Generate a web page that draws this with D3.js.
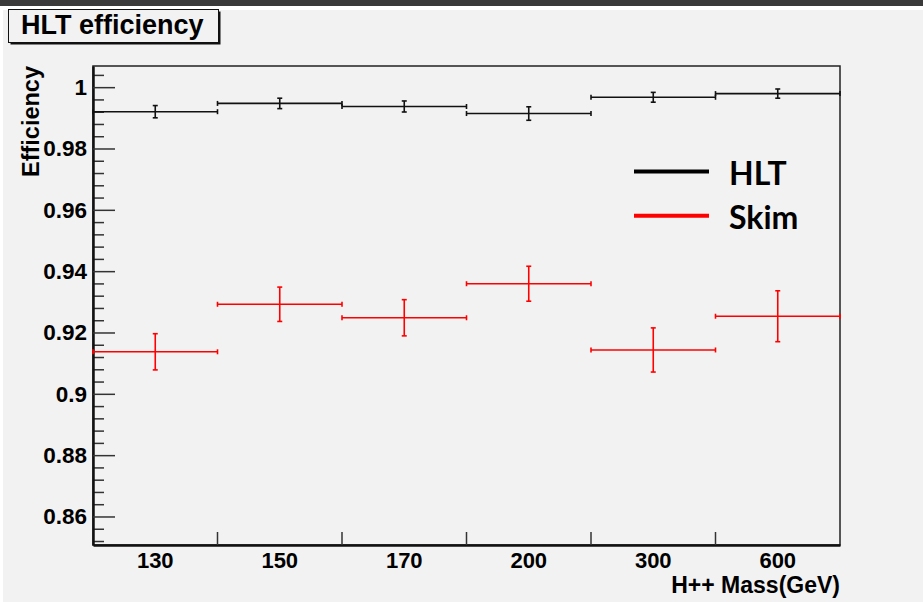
<!DOCTYPE html>
<html>
<head>
<meta charset="utf-8">
<script src="https://cdn.jsdelivr.net/npm/d3@7"></script>
<style>
  body { margin: 0; background: #ffffff; }
  svg { display: block; }
</style>
</head>
<body>
<div id="chart"></div>
<script>
// DATA
const masses = ['130', '150', '170', '200', '300', '600'];
const hltEff = [0.9920, 0.9947, 0.9937, 0.9914, 0.9967, 0.9979];
const hltErr = [0.0020, 0.0017, 0.0018, 0.0022, 0.0016, 0.0015];
const skimEff = [0.9137, 0.9292, 0.9248, 0.9359, 0.9143, 0.9253];
const skimErr = [0.0059, 0.0056, 0.0059, 0.0057, 0.0072, 0.0083];
const yMajorTicks = [0.86, 0.88, 0.90, 0.92, 0.94, 0.96, 0.98, 1.00];
const legendItems = ['HLT', 'Skim'];

(() => {
    const W = 923, H = 602;
    const left = 93, right = 840, top = 66, bottom = 545;
    const helv = 'Liberation Sans, Arial, Helvetica, sans-serif';

    const svg = d3.select('#chart')
        .append('svg')
        .attr('width', W)
        .attr('height', H);

    // canvas background + top strip
    svg.append('rect').attr('width', W).attr('height', H).attr('fill', '#ffffff');
    svg.append('rect').attr('x', 3).attr('y', 10).attr('width', W - 3).attr('height', H - 10).attr('fill', '#f2f2f2');
    svg.append('rect').attr('width', W).attr('height', 6).attr('fill', '#3a3a3a');

    const xScale = d3.scaleBand()
        .domain(masses)
        .range([left, right])
        .padding(0);

    const yScale = d3.scaleLinear()
        .domain([0.8507, 1.0069])
        .range([bottom, top]);

    // frame
    svg.append('rect')
        .attr('x', left).attr('y', top)
        .attr('width', right - left).attr('height', bottom - top)
        .attr('fill', 'none')
        .attr('stroke', '#222')
        .attr('stroke-width', 1.5);

    // y axis: minor ticks
    const minorTicks = d3.range(0.852, 1.0061, 0.004).filter(v => Math.abs(Math.round(v * 50) - v * 50) > 1e-6);
    svg.append('g')
        .attr('transform', `translate(${left},0)`)
        .call(d3.axisLeft(yScale).tickValues(minorTicks).tickSize(-11).tickSizeOuter(0).tickFormat(''))
        .call(g => g.select('.domain').remove())
        .call(g => g.selectAll('line').attr('stroke', '#333').attr('stroke-width', 1.5));

    // y axis: major ticks + labels
    svg.append('g')
        .attr('transform', `translate(${left},0)`)
        .call(d3.axisLeft(yScale).tickValues(yMajorTicks).tickSize(-22).tickSizeOuter(0).tickPadding(6)
            .tickFormat(d => String(+d.toFixed(2))))
        .call(g => g.select('.domain').attr('stroke', '#111').attr('stroke-width', 2.5))
        .call(g => g.selectAll('line').attr('stroke', '#333').attr('stroke-width', 1.5))
        .call(g => g.selectAll('text')
            .attr('font-family', helv).attr('font-weight', 'bold').attr('font-size', 22.5).attr('fill', '#000'));

    // x axis: ticks at bin edges, labels at bin centres
    const edges = masses.slice(1).map(m => xScale(m));
    svg.append('g')
        .attr('transform', `translate(0,${bottom})`)
        .call(d3.axisBottom(xScale).tickSize(0).tickSizeOuter(0).tickPadding(7))
        .call(g => g.select('.domain').attr('stroke', '#111').attr('stroke-width', 2.5))
        .call(g => g.selectAll('text')
            .attr('font-family', helv).attr('font-weight', 'bold').attr('font-size', 22).attr('fill', '#000'));

    svg.append('g')
        .selectAll('line')
        .data(edges)
        .enter()
        .append('line')
        .attr('x1', d => d).attr('x2', d => d)
        .attr('y1', bottom).attr('y2', bottom - 13)
        .attr('stroke', '#333').attr('stroke-width', 1.5);

    // axis titles
    svg.append('text')
        .attr('x', right).attr('y', 593)
        .attr('text-anchor', 'end')
        .attr('font-family', helv).attr('font-weight', 'bold').attr('font-size', 23)
        .text('H++ Mass(GeV)');

    svg.append('text')
        .attr('transform', 'translate(38.5,66) rotate(-90)')
        .attr('text-anchor', 'end')
        .attr('font-family', helv).attr('font-weight', 'bold').attr('font-size', 23.5)
        .text('Efficiency');

    // error-bar series
    function drawSeries(vals, errs, color) {
        const g = svg.append('g');
        const bw = xScale.bandwidth();
        const pts = vals.map((v, i) => ({ m: masses[i], v: v, e: errs[i] }));

        // horizontal bin bars
        g.selectAll('.h')
            .data(pts).enter().append('line')
            .attr('x1', d => xScale(d.m)).attr('x2', d => xScale(d.m) + bw)
            .attr('y1', d => yScale(d.v)).attr('y2', d => yScale(d.v))
            .attr('stroke', color).attr('stroke-width', 1.6);

        // end caps of horizontal bars
        g.selectAll('.hc')
            .data(pts.flatMap(d => [{ x: xScale(d.m), v: d.v }, { x: xScale(d.m) + bw, v: d.v }]))
            .enter().append('line')
            .attr('x1', d => d.x).attr('x2', d => d.x)
            .attr('y1', d => yScale(d.v) - 2.5).attr('y2', d => yScale(d.v) + 2.5)
            .attr('stroke', color).attr('stroke-width', 1.6);

        // vertical error bars
        g.selectAll('.v')
            .data(pts).enter().append('line')
            .attr('x1', d => xScale(d.m) + bw / 2).attr('x2', d => xScale(d.m) + bw / 2)
            .attr('y1', d => yScale(d.v - d.e)).attr('y2', d => yScale(d.v + d.e))
            .attr('stroke', color).attr('stroke-width', 1.6);

        // caps of vertical bars
        g.selectAll('.vc')
            .data(pts.flatMap(d => [{ m: d.m, v: d.v - d.e }, { m: d.m, v: d.v + d.e }]))
            .enter().append('line')
            .attr('x1', d => xScale(d.m) + bw / 2 - 2.5).attr('x2', d => xScale(d.m) + bw / 2 + 2.5)
            .attr('y1', d => yScale(d.v)).attr('y2', d => yScale(d.v))
            .attr('stroke', color).attr('stroke-width', 1.6);
    }

    drawSeries(hltEff, hltErr, '#111111');
    drawSeries(skimEff, skimErr, '#ff0000');

    // legend
    const legendColors = ['#000000', '#ff0000'];
    const leg = svg.append('g');
    legendItems.forEach((name, i) => {
        const y = 171.5 + i * 44.3;
        leg.append('line')
            .attr('x1', 634).attr('x2', 709)
            .attr('y1', y).attr('y2', y)
            .attr('stroke', legendColors[i]).attr('stroke-width', 4);
        leg.append('text')
            .attr('x', 729).attr('y', y + 13)
            .attr('font-family', 'Lato, "Open Sans", sans-serif').attr('font-weight', 'bold').attr('font-size', 32)
            .attr('fill', '#000')
            .text(name);
    });

    // title box
    svg.append('rect')
        .attr('x', 10.5).attr('y', 11.5).attr('width', 210).attr('height', 33)
        .attr('fill', '#111');
    svg.append('rect')
        .attr('x', 8.5).attr('y', 9.5).attr('width', 210).attr('height', 33)
        .attr('fill', '#f2f2f2').attr('stroke', '#111').attr('stroke-width', 1);
    svg.append('text')
        .attr('x', 21).attr('y', 34)
        .attr('font-family', helv).attr('font-weight', 'bold').attr('font-size', 27)
        .text('HLT efficiency');
})();
</script>
</body>
</html>
